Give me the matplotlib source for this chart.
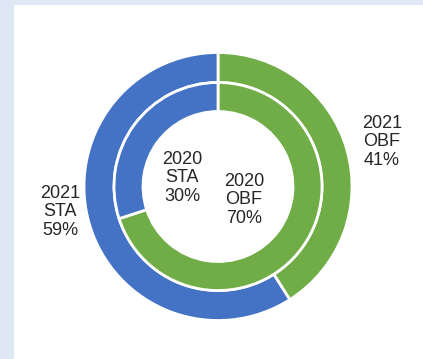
import matplotlib
matplotlib.use("Agg")
import matplotlib.pyplot as plt
from matplotlib.patches import Rectangle

plt.rcParams['font.family'] = ['Liberation Sans', 'DejaVu Sans']

# Data
categories = ["OBF", "STA"]
values_2021 = [41, 59]   # outer ring
values_2020 = [70, 30]   # inner ring
colors = ["#70AD47", "#4472C4"]

W, H = 423, 359
fig = plt.figure(figsize=(W / 100, H / 100), dpi=100)
fig.patch.set_facecolor("#dde8f4")
ax = fig.add_axes([0, 0, 1, 1])
ax.set_xlim(0, W)
ax.set_ylim(0, H)
ax.set_aspect("equal")
ax.axis("off")

# white chart panel
ax.add_patch(Rectangle((14, 0), W - 14, H - 5, facecolor="white", edgecolor="none", zorder=0))

cx, cy = 218, H - 186.5
r_out, r_mid, r_in = 134, 104, 75

wedge_style = dict(edgecolor="white", linewidth=2)
ax.pie(values_2021, colors=colors, startangle=90, counterclock=False,
       radius=r_out, center=(cx, cy), frame=True,
       wedgeprops=dict(width=r_out - r_mid, **wedge_style))
ax.pie(values_2020, colors=colors, startangle=90, counterclock=False,
       radius=r_mid, center=(cx, cy), frame=True,
       wedgeprops=dict(width=r_mid - r_in, **wedge_style))
ax.set_xlim(0, W)
ax.set_ylim(0, H)
ax.axis("off")

# data labels (year, category, share)
label_pos = {
    ("2021", 0): (382, H - 142),
    ("2021", 1): (60, H - 212),
    ("2020", 0): (244, H - 200),
    ("2020", 1): (182, H - 178),
}
for year, vals in (("2021", values_2021), ("2020", values_2020)):
    for i, (cat, v) in enumerate(zip(categories, vals)):
        x, y = label_pos[(year, i)]
        ax.text(x, y, f"{year}\n{cat}\n{v}%", ha="center", va="center",
                fontsize=13, color="#262626", linespacing=1.12)

fig.savefig("out.png", dpi=100, facecolor=fig.get_facecolor())
